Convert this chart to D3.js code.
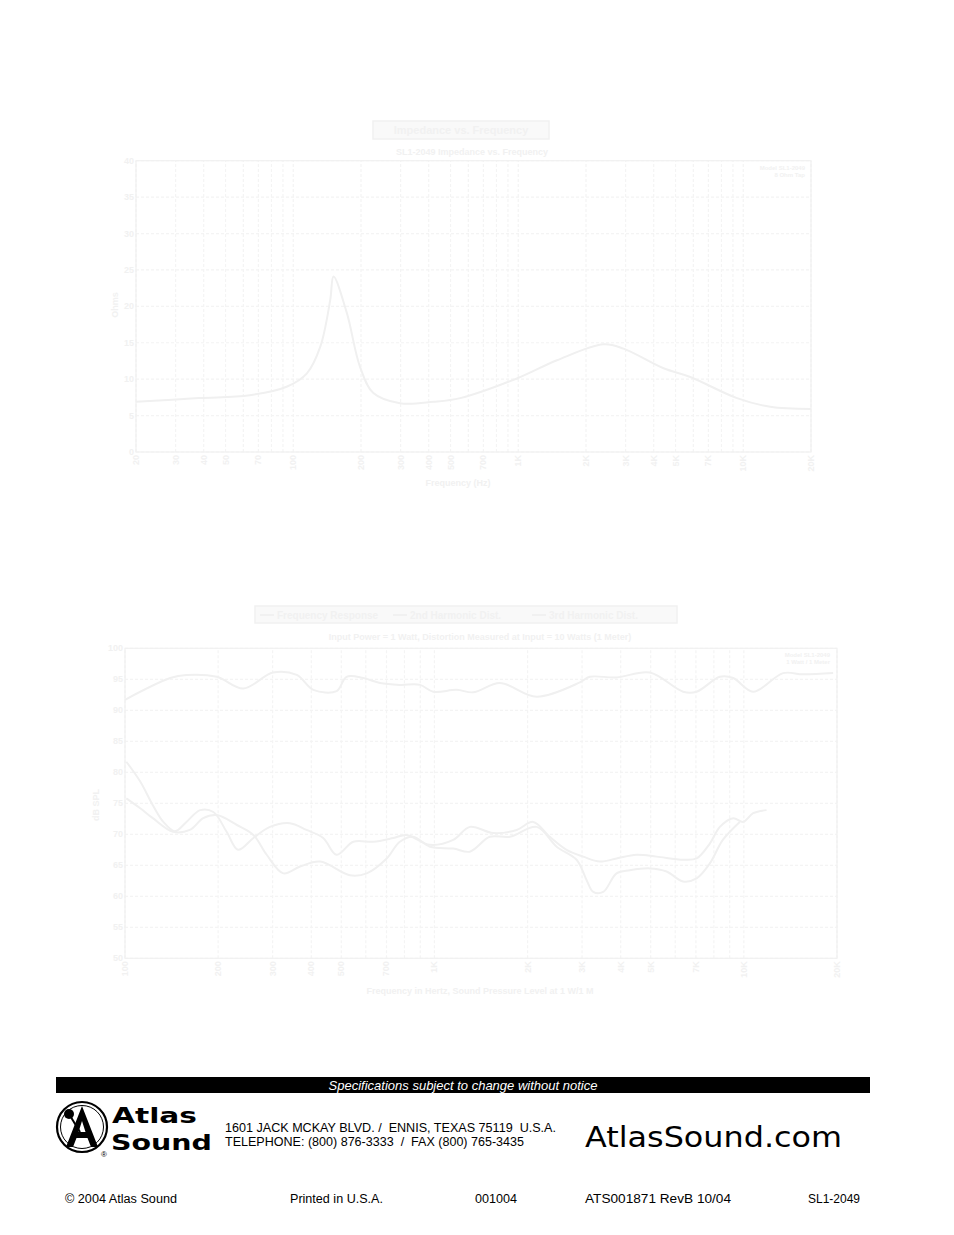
<!DOCTYPE html>
<html><head><meta charset="utf-8">
<script src="https://cdn.jsdelivr.net/npm/d3@7"></script>
<style>body{margin:0;background:#fff}svg{display:block}</style>
</head><body><svg id="page" width="954" height="1235"></svg>
<script>
// ---------- DATA ----------
// Chart 1: impedance vs frequency
const impFreq = [20,38,64,94,115,132,146,151,173,198,227,298,420,552,986,1486,2394,2936,4425,5812,9376,13180,20000];
const impOhms = [6.9,7.4,7.8,9.0,10.8,14.5,20.9,24.1,19.1,11.7,8.1,6.7,6.9,7.4,10.1,12.6,14.8,14.2,11.5,10.3,7.4,6.2,5.9];
const impTicksX = [20,30,40,50,70,100,200,300,400,500,700,1000,2000,3000,4000,5000,7000,10000,20000];
const impTickLabelsX = ["20","30","40","50","70","100","200","300","400","500","700","1K","2K","3K","4K","5K","7K","10K","20K"];
const impTicksY = [0,5,10,15,20,25,30,35,40];

// Chart 2: frequency response + distortion
const frFreq = [100,140,158,198,241,301,359,406,483,520,589,667,773,898,991,1180,1334,1628,2138,2951,3177,3878,4966,6364,7035,8364,9237,10715,13396,15545,19430];
const frSPL  = [91.7,95.2,95.7,95.4,93.5,96.1,95.7,93.3,93.1,95.4,95.2,94.4,94.1,94.1,93.0,93.3,92.9,94.4,92.2,94.5,95.4,95.3,96.1,93.0,93.0,95.4,95.2,93.0,96.0,95.8,96.0];
const h2Freq = [101,112,123,133,145,158,175,193,213,232,260,294,341,386,437,483,547,634,736,813,967,1150,1302,1549,1844,2085,2360,2673,3026,3425,3879,4500,5224,6367,7036,7762,8364,9237,9952,10715,11838];
const h2Level= [81.7,78.5,74.7,72.0,70.5,72.0,73.9,73.6,70.4,67.5,69.4,71.2,71.8,70.7,69.4,66.7,68.8,68.8,69.4,69.9,68.3,69.1,71.2,70.2,70.7,72.0,69.6,67.5,66.4,65.6,66.1,66.7,66.4,65.9,66.1,68.5,71.2,72.6,72.0,73.4,73.9];
const h3Freq = [101,112,123,143,162,179,198,230,260,287,325,368,427,533,604,701,773,854,967,1150,1302,1510,1754,2140,2483,2880,3104,3260,3512,3878,4282,4966,5627,6364,7035,7762,8551,9700];
const h3Level= [75.8,74.2,72.6,70.4,70.7,72.6,73.1,71.5,69.9,66.7,63.7,64.8,65.6,63.4,63.7,66.1,68.8,69.6,68.0,67.7,67.2,69.6,69.6,71.2,68.0,65.9,62.6,60.7,60.7,63.7,64.2,64.5,64.0,62.4,62.9,65.3,69.1,72.0];
const frTicksX = [100,200,300,400,500,700,1000,2000,3000,4000,5000,7000,10000,20000];
const frTickLabelsX = ["100","200","300","400","500","700","1K","2K","3K","4K","5K","7K","10K","20K"];
const frTicksY = [50,55,60,65,70,75,80,85,90,95,100];

// ---------- STYLE ----------
const C = {grid:"#f4f4f4", border:"#f1f1f1", curve:"#f0f0f0", text:"#f1f1f1", boxFill:"#f9f9f9", boxStroke:"#f1f1f1"};
const svg = d3.select("#page");
svg.append("rect").attr("width",954).attr("height",1235).attr("fill","#fff");

function drawChart(o){
  const g = svg.append("g");
  const x = d3.scaleLog().domain(o.xDomain).range(o.xRange);
  const y = d3.scaleLinear().domain(o.yDomain).range(o.yRange);
  g.selectAll(".vg").data(x.ticks()).join("line")
    .attr("x1",d=>x(d)).attr("x2",d=>x(d)).attr("y1",o.yRange[0]).attr("y2",o.yRange[1])
    .attr("stroke",C.grid).attr("stroke-width",1.2).attr("stroke-dasharray","3,2");
  g.selectAll(".hg").data(o.yTicks).join("line")
    .attr("x1",o.xRange[0]).attr("x2",o.xRange[1]).attr("y1",d=>y(d)).attr("y2",d=>y(d))
    .attr("stroke",C.grid).attr("stroke-width",1.2).attr("stroke-dasharray","3,2");
  g.append("rect").attr("x",o.xRange[0]).attr("y",o.yRange[1])
    .attr("width",o.xRange[1]-o.xRange[0]).attr("height",o.yRange[0]-o.yRange[1])
    .attr("fill","none").attr("stroke",C.border).attr("stroke-width",1.2);
  g.selectAll(".yl").data(o.yTicks).join("text")
    .attr("x",o.xRange[0]-2).attr("y",d=>y(d)+3).attr("text-anchor","end")
    .attr("font-family","Liberation Sans, Arial, sans-serif").attr("font-size",9).attr("font-weight","bold")
    .attr("fill",C.text).text(d=>d);
  g.selectAll(".xl").data(o.xTicks).join("text")
    .attr("transform",d=>`translate(${x(d)+3},${o.yRange[0]+3}) rotate(-90)`)
    .attr("text-anchor","end")
    .attr("font-family","Liberation Sans, Arial, sans-serif").attr("font-size",9).attr("font-weight","bold")
    .attr("fill",C.text).text((d,i)=>o.xLabels[i]);
  const line = d3.line().x(d=>x(d[0])).y(d=>y(d[1])).curve(d3.curveCatmullRom.alpha(0.5));
  o.series.forEach(s=>{
    g.append("path").datum(s[0].map((f,i)=>[f,s[1][i]]))
      .attr("d",line).attr("fill","none").attr("stroke",C.curve).attr("stroke-width",2);
  });
  return {x,y,g};
}

function txt(x,y,s,opt={}){
  const t = svg.append("text").attr("x",x).attr("y",y).text(s)
    .attr("font-family",opt.family||"Liberation Sans, Arial, sans-serif")
    .attr("font-size",opt.size||10).attr("fill",opt.fill||C.text)
    .attr("text-anchor",opt.anchor||"start");
  if(opt.weight) t.attr("font-weight",opt.weight);
  if(opt.style) t.attr("font-style",opt.style);
  if(opt.rotate) t.attr("transform",`rotate(${opt.rotate},${x},${y})`);
  if(opt.len) t.attr("textLength",opt.len).attr("lengthAdjust","spacingAndGlyphs");
  return t;
}

// ---------- CHART 1 ----------
svg.append("rect").attr("x",373).attr("y",121).attr("width",176).attr("height",18)
  .attr("fill",C.boxFill).attr("stroke",C.boxStroke).attr("stroke-width",1.5);
txt(461,134,"Impedance vs. Frequency",{anchor:"middle",size:11,weight:"bold"});
txt(472,155,"SL1-2049 Impedance vs. Frequency",{anchor:"middle",size:9,weight:"bold"});
drawChart({xDomain:[20,20000],xRange:[136,811],yDomain:[0,40],yRange:[452,160.7],
  yTicks:impTicksY,xTicks:impTicksX,xLabels:impTickLabelsX,series:[[impFreq,impOhms]]});
txt(805,170,"Model SL1-2049",{anchor:"end",size:6,weight:"bold"});
txt(805,177,"8 Ohm Tap",{anchor:"end",size:6,weight:"bold"});
txt(118,305,"Ohms",{anchor:"middle",size:9,weight:"bold",rotate:-90});
txt(458,486,"Frequency (Hz)",{anchor:"middle",size:9,weight:"bold"});

// ---------- CHART 2 ----------
svg.append("rect").attr("x",255).attr("y",606).attr("width",422).attr("height",17)
  .attr("fill",C.boxFill).attr("stroke",C.boxStroke).attr("stroke-width",1.5);
const legendItems = [["Frequency Response",260],["2nd Harmonic Dist.",393],["3rd Harmonic Dist.",532]];
legendItems.forEach(([s,lx])=>{
  svg.append("line").attr("x1",lx).attr("x2",lx+14).attr("y1",615).attr("y2",615).attr("stroke",C.text).attr("stroke-width",2);
  txt(lx+17,618.5,s,{size:10,weight:"bold"});
});
txt(480,640,"Input Power = 1 Watt, Distortion Measured at Input = 10 Watts (1 Meter)",{anchor:"middle",size:9,weight:"bold"});
drawChart({xDomain:[100,20000],xRange:[125,837],yDomain:[50,100],yRange:[958.3,648.3],
  yTicks:frTicksY,xTicks:frTicksX,xLabels:frTickLabelsX,
  series:[[frFreq,frSPL],[h2Freq,h2Level],[h3Freq,h3Level]]});
txt(830,657,"Model SL1-2049",{anchor:"end",size:6,weight:"bold"});
txt(830,664,"1 Watt / 1 Meter",{anchor:"end",size:6,weight:"bold"});
txt(99,805,"dB SPL",{anchor:"middle",size:9,weight:"bold",rotate:-90});
txt(480,994,"Frequency in Hertz, Sound Pressure Level at 1 W/1 M",{anchor:"middle",size:9,weight:"bold"});

// ---------- FOOTER ----------
svg.append("rect").attr("x",56).attr("y",1077).attr("width",814).attr("height",16).attr("fill","#000");
txt(463,1089.5,"Specifications subject to change without notice",{anchor:"middle",size:13,style:"italic",fill:"#fff"});

const lg = svg.append("g");
lg.append("circle").attr("cx",82).attr("cy",1127).attr("r",25).attr("fill","none").attr("stroke","#000").attr("stroke-width",2.2);
lg.append("circle").attr("cx",82).attr("cy",1127).attr("r",21.5).attr("fill","none").attr("stroke","#000").attr("stroke-width",1);
lg.append("path").attr("d","M66,1147 L82,1106 L98,1147 L91,1147 L87.5,1138 L76.5,1138 L73,1147 Z M78.5,1132 L85.5,1132 L82,1121 Z")
  .attr("fill","#000");
lg.append("circle").attr("cx",69).attr("cy",1114).attr("r",5).attr("fill","#000");
lg.append("line").attr("x1",69).attr("y1",1114).attr("x2",80).attr("y2",1132).attr("stroke","#000").attr("stroke-width",2);
txt(112,1123,"Atlas",{family:"DejaVu Sans, sans-serif",size:22,fill:"#000",len:85,weight:"600"});
txt(111,1150,"Sound",{family:"DejaVu Sans, sans-serif",size:22,fill:"#000",len:101,weight:"600"});
txt(101,1157,"®",{size:8,fill:"#000"});

txt(225,1132,"1601 JACK MCKAY BLVD. /  ENNIS, TEXAS 75119  U.S.A.",{size:12,fill:"#000",len:331}).attr("xml:space","preserve");
txt(225,1146,"TELEPHONE: (800) 876-3333  /  FAX (800) 765-3435",{size:12,fill:"#000",len:299}).attr("xml:space","preserve");
txt(585,1147,"AtlasSound.com",{family:"DejaVu Sans, sans-serif",size:28,fill:"#000",len:257});

txt(65,1203,"© 2004 Atlas Sound",{size:12,fill:"#000",len:112});
txt(290,1203,"Printed in U.S.A.",{size:12,fill:"#000",len:93});
txt(475,1203,"001004",{size:12,fill:"#000",len:42});
txt(585,1203,"ATS001871 RevB 10/04",{size:12,fill:"#000",len:146});
txt(808,1203,"SL1-2049",{size:12,fill:"#000",len:52});
</script></body></html>
